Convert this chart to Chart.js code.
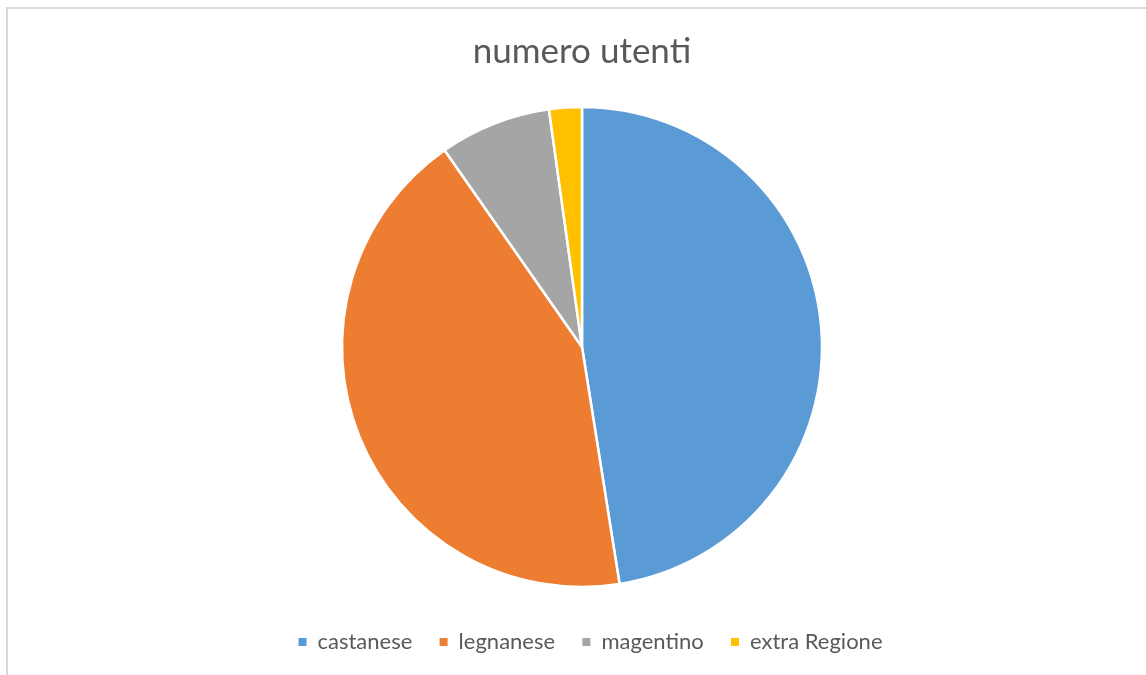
<!DOCTYPE html>
<html>
<head>
<meta charset="utf-8">
<script src="https://cdn.jsdelivr.net/npm/chart.js@4/dist/chart.umd.min.js"></script>
<style>
  html, body { margin: 0; padding: 0; background: #fff; }
  #wrap { position: relative; width: 1146px; height: 675px; overflow: hidden; }
  #frame { position: absolute; left: 6px; top: 7px; width: 1200px; height: 700px;
           border-left: 2px solid #d9d9d9; border-top: 2px solid #d9d9d9; }
  canvas { position: absolute; left: 0; top: 0; }
</style>
</head>
<body>
<div id="wrap">
  <div id="frame"></div>
  <canvas id="c" width="1146" height="675"></canvas>
</div>
<script>
const categories = ["castanese", "legnanese", "magentino", "extra Regione"];
const values = [47.5, 42.8, 7.5, 2.2];
const colors = ["#5B9BD5", "#ED7D31", "#A5A5A5", "#FFC000"];
const chartTitle = "numero utenti";

const FONT = "Lato, 'Open Sans', sans-serif";
const LEGEND_HEIGHT = 71.3;
const LEGEND_SHIFT = 8.5;

const legendTweaks = {
  id: "legendTweaks",
  beforeLayout(chart) {
    const lg = chart.legend;
    if (lg && !lg._wrappedFit) {
      const f = lg.fit;
      lg.fit = function () { f.call(this); this.height = LEGEND_HEIGHT; };
      lg._wrappedFit = true;
    }
  },
  afterLayout(chart) {
    const lg = chart.legend;
    if (lg) { lg.left += LEGEND_SHIFT; lg.right += LEGEND_SHIFT; }
  }
};

const baseGen = Chart.overrides.pie.plugins.legend.labels.generateLabels;

new Chart(document.getElementById("c"), {
  type: "pie",
  data: {
    labels: categories,
    datasets: [{
      data: values,
      backgroundColor: colors,
      borderColor: "#ffffff",
      borderWidth: 2.5,
      radius: 240
    }]
  },
  options: {
    responsive: false,
    animation: false,
    layout: { padding: { left: 18, right: 0, top: 0, bottom: 0 } },
    plugins: {
      tooltip: { enabled: false },
      title: {
        display: true,
        text: chartTitle,
        color: "#595959",
        font: { family: FONT, size: 35, weight: "normal" },
        padding: { top: 31, bottom: 17.3 }
      },
      legend: {
        position: "bottom",
        labels: {
          color: "#595959",
          font: { family: FONT, size: 22 },
          boxWidth: 8,
          boxHeight: 8,
          padding: 27.3,
          generateLabels(chart) {
            return baseGen(chart).map(l => Object.assign(l, { lineWidth: 0, strokeStyle: "rgba(0,0,0,0)" }));
          }
        }
      }
    }
  },
  plugins: [legendTweaks]
});
</script>
</body>
</html>
